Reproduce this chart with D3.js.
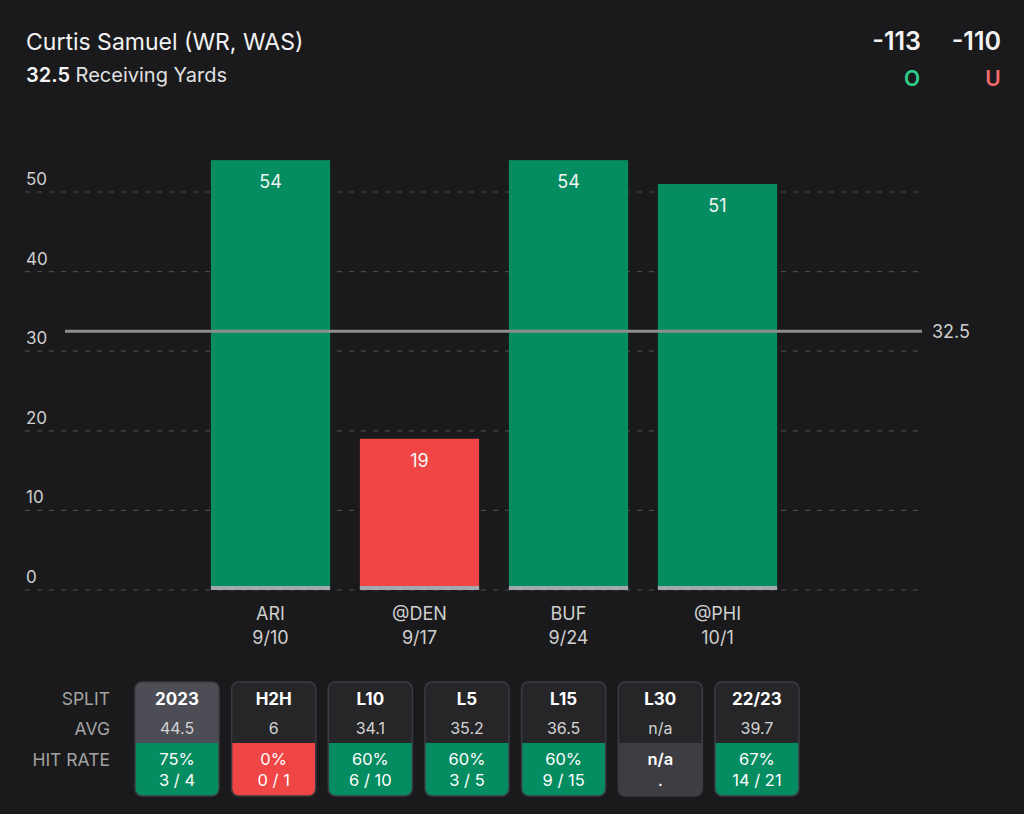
<!DOCTYPE html>
<html>
<head>
<meta charset="utf-8">
<script src="https://cdn.jsdelivr.net/npm/d3@7"></script>
<style>
  body { margin: 0; background: #1a1a1c; }
  svg { display: block; font-family: Inter, "Noto Sans", sans-serif; }
</style>
</head>
<body>
<svg id="chart" width="1024" height="814"></svg>
<script>
// data
var games = ["ARI", "@DEN", "BUF", "@PHI"];
var dates = ["9/10", "9/17", "9/24", "10/1"];
var yards = [54, 19, 54, 51];
var line = 32.5;
var yTicks = [0, 10, 20, 30, 40, 50];

var splits = ["2023", "H2H", "L10", "L5", "L15", "L30", "22/23"];
var avgs = ["44.5", "6", "34.1", "35.2", "36.5", "n/a", "39.7"];
var hitPct = ["75%", "0%", "60%", "60%", "60%", "n/a", "67%"];
var hitFrac = ["3 / 4", "0 / 1", "6 / 10", "3 / 5", "9 / 15", ".", "14 / 21"];
var hitRate = [0.75, 0, 0.6, 0.6, 0.6, null, 0.67];

var green = "#058c61", red = "#ef4545";

var svg = d3.select("#chart");

// header
svg.append("text").attr("x", 26).attr("y", 50)
  .attr("fill", "#f2f2f2").attr("font-size", 23)
  .text("Curtis Samuel (WR, WAS)");
var sub = svg.append("text").attr("x", 26).attr("y", 82)
  .attr("fill", "#e0e0e0").attr("font-size", 20);
sub.append("tspan").attr("font-weight", 600).attr("fill", "#f4f4f4").text(line);
sub.append("tspan").text(" Receiving Yards");

svg.append("text").attr("x", 921).attr("y", 50).attr("text-anchor", "end")
  .attr("fill", "#f2f2f2").attr("font-size", 25).attr("font-weight", 600).text("-113");
svg.append("text").attr("x", 1001).attr("y", 50).attr("text-anchor", "end")
  .attr("fill", "#f2f2f2").attr("font-size", 25).attr("font-weight", 600).text("-110");
svg.append("text").attr("x", 912).attr("y", 86).attr("text-anchor", "middle")
  .attr("fill", "#2fcf8a").attr("font-size", 21).attr("font-weight", 600).text("O");
svg.append("text").attr("x", 993).attr("y", 86).attr("text-anchor", "middle")
  .attr("fill", "#f26b6b").attr("font-size", 21).attr("font-weight", 600).text("U");

// scales
var y = d3.scaleLinear().domain([0, 50]).range([590, 192]);
var x = d3.scaleBand().domain(games).range([196, 792])
  .paddingInner(0.2).paddingOuter(0.1);

// grid
var grid = svg.append("g");
grid.selectAll("line").data(yTicks).enter().append("line")
  .attr("x1", 25).attr("x2", 922)
  .attr("y1", function(d){ return y(d); })
  .attr("y2", function(d){ return y(d); })
  .attr("stroke", "#4a4a4e").attr("stroke-width", 1.2)
  .attr("stroke-dasharray", "5,7");
grid.selectAll("text").data(yTicks).enter().append("text")
  .attr("x", 26).attr("y", function(d){ return y(d) - 7; })
  .attr("fill", "#cfcfcf").attr("font-size", 17)
  .text(function(d){ return d; });

// bars
var bars = svg.append("g").selectAll("g").data(games).enter().append("g");
bars.append("rect")
  .attr("x", function(d){ return x(d); })
  .attr("width", x.bandwidth())
  .attr("y", function(d, i){ return y(yards[i]); })
  .attr("height", function(d, i){ return y(0) - y(yards[i]); })
  .attr("fill", function(d, i){ return yards[i] > line ? green : red; });
bars.append("rect")
  .attr("x", function(d){ return x(d); })
  .attr("width", x.bandwidth())
  .attr("y", y(0) - 4).attr("height", 4)
  .attr("fill", "#a4a8ad");
bars.append("text")
  .attr("x", function(d){ return x(d) + x.bandwidth() / 2; })
  .attr("y", function(d, i){ return y(yards[i]) + 28; })
  .attr("text-anchor", "middle").attr("fill", "#f4f4f4").attr("font-size", 18)
  .text(function(d, i){ return yards[i]; });
bars.append("text")
  .attr("x", function(d){ return x(d) + x.bandwidth() / 2; })
  .attr("y", 620)
  .attr("text-anchor", "middle").attr("fill", "#cfcfcf").attr("font-size", 18)
  .text(function(d){ return d; });
bars.append("text")
  .attr("x", function(d){ return x(d) + x.bandwidth() / 2; })
  .attr("y", 644)
  .attr("text-anchor", "middle").attr("fill", "#cfcfcf").attr("font-size", 18)
  .text(function(d, i){ return dates[i]; });

// prop line
svg.append("line").attr("x1", 65).attr("x2", 922)
  .attr("y1", y(line)).attr("y2", y(line))
  .attr("stroke", "#8e8e8e").attr("stroke-width", 3);
svg.append("text").attr("x", 932).attr("y", y(line) + 7)
  .attr("fill", "#cfcfcf").attr("font-size", 18).text(line);

// splits table
var rowLabels = [["SPLIT", 705], ["AVG", 735], ["HIT RATE", 766]];
svg.append("g").selectAll("text").data(rowLabels).enter().append("text")
  .attr("x", 110).attr("y", function(d){ return d[1]; })
  .attr("text-anchor", "end").attr("fill", "#a3a3a3").attr("font-size", 17.5)
  .text(function(d){ return d[0]; });

var cx = d3.scaleBand().domain(splits).range([135, 799]).paddingInner(0.13);
var cw = cx.bandwidth(), cardTop = 682, cardMid = 743, cardBot = 796, r = 7;

var cards = svg.append("g").selectAll("g").data(splits).enter().append("g")
  .attr("transform", function(d){ return "translate(" + cx(d) + ",0)"; });
cards.each(function(d, i){
  var g = d3.select(this);
  var clipId = "clip" + i;
  g.append("clipPath").attr("id", clipId).append("rect")
    .attr("x", 0).attr("y", cardTop).attr("width", cw).attr("height", cardBot - cardTop)
    .attr("rx", r);
  var inner = g.append("g").attr("clip-path", "url(#" + clipId + ")");
  inner.append("rect").attr("x", 0).attr("y", cardTop).attr("width", cw)
    .attr("height", cardMid - cardTop).attr("fill", i === 0 ? "#4d4d55" : "#262629");
  var hr = hitRate[i];
  inner.append("rect").attr("x", 0).attr("y", cardMid).attr("width", cw)
    .attr("height", cardBot - cardMid)
    .attr("fill", hr === null ? "#3d3d43" : (hr >= 0.5 ? green : red));
  g.append("rect").attr("x", 0).attr("y", cardTop).attr("width", cw)
    .attr("height", cardBot - cardTop).attr("rx", r)
    .attr("fill", "none").attr("stroke", "#3c3c40").attr("stroke-width", 1.5);
  g.append("text").attr("x", cw / 2).attr("y", 705).attr("text-anchor", "middle")
    .attr("fill", "#ffffff").attr("font-size", 17).attr("font-weight", 700).text(d);
  g.append("text").attr("x", cw / 2).attr("y", 734).attr("text-anchor", "middle")
    .attr("fill", "#d4d4d4").attr("font-size", 16).text(avgs[i]);
  g.append("text").attr("x", cw / 2).attr("y", 765).attr("text-anchor", "middle")
    .attr("fill", "#ffffff").attr("font-size", 16.5)
    .attr("font-weight", hr === null ? 600 : 400).text(hitPct[i]);
  g.append("text").attr("x", cw / 2).attr("y", 786).attr("text-anchor", "middle")
    .attr("fill", "#ffffff").attr("font-size", 16.5).text(hitFrac[i]);
});
</script>
</body>
</html>
